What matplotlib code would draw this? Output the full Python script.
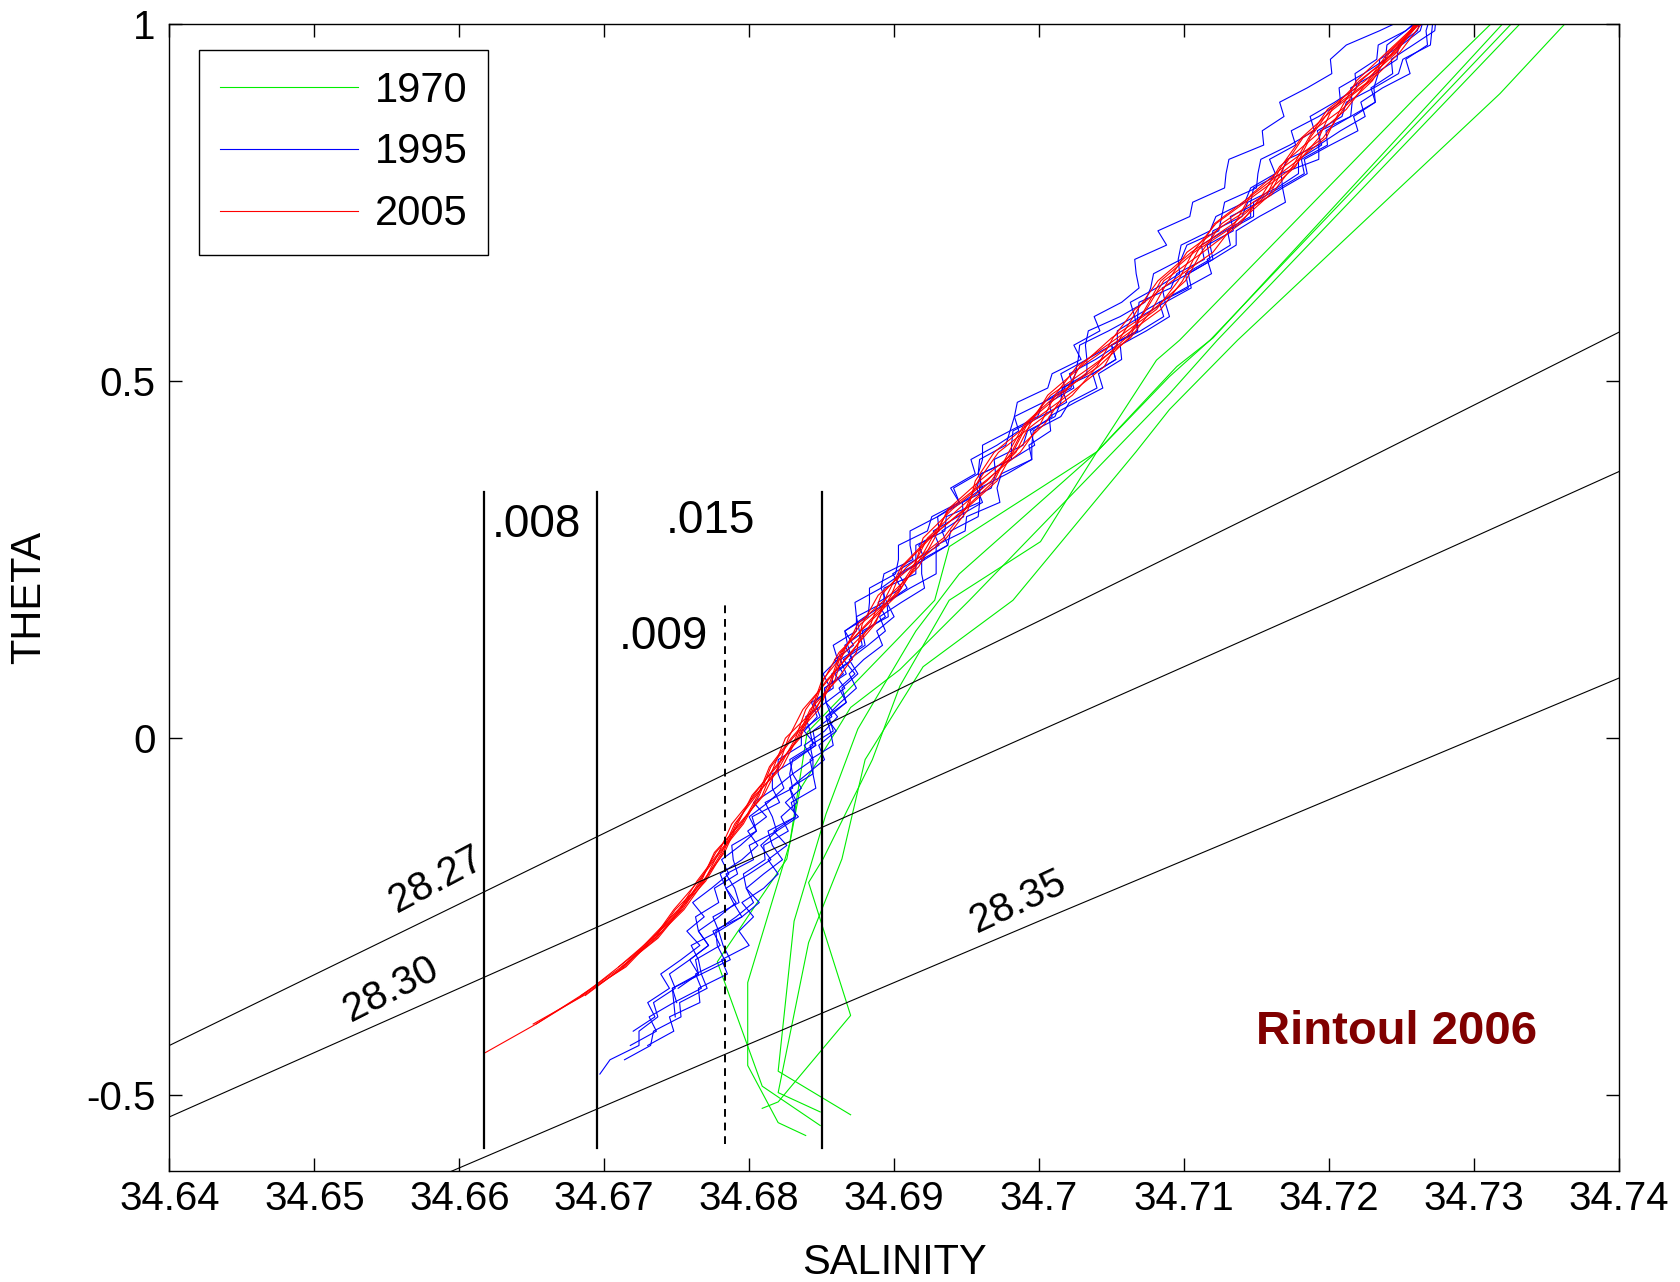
import numpy as np
import matplotlib
matplotlib.use('Agg')
import matplotlib.pyplot as plt

plt.rcParams['font.family'] = ['Liberation Sans', 'DejaVu Sans']

# salinity stored as units of 1e-4 above 34.6 (so 618 -> 34.6618)
red_theta = [-0.44, -0.40, -0.36, -0.32, -0.28, -0.24, -0.20, -0.16, -0.12, -0.08,
             -0.04, 0.00, 0.04, 0.08, 0.12, 0.16, 0.20, 0.24, 0.28, 0.32,
             0.36, 0.40, 0.44, 0.48, 0.52, 0.56, 0.60, 0.64, 0.68, 0.72,
             0.76, 0.80, 0.84, 0.88, 0.92, 0.96, 1.00]
red_mid = [618, 652, 685, 712, 734, 751, 766, 779, 792, 805,
           817, 829, 842, 854, 866, 880, 895, 911, 927, 944,
           961, 978, 996, 1015, 1034, 1053, 1073, 1092, 1111, 1131,
           1151, 1170, 1189, 1207, 1225, 1243, 1261]
red_dev = [
    [0, 1, -1, 0, 2, 1, -2, 0, 3, 1, -3, 0, 4, 2, -3, 1, 5, 2, -4, 0, 6, 3, -5, -1, 4, 7, 1, -6, 2, 8, 3, -4, 0, 5, 2, -2, 1],
    [None, -1, 1, 2, -1, 3, 1, -3, 2, 4, 0, -4, 3, 5, -1, -5, 2, 6, 1, -7, -2, 5, 8, 2, -6, -3, 6, 9, 1, -5, 4, 7, -2, -6, 3, 1, -1],
    [None, 1, 0, -2, 1, -2, 3, 2, -2, 0, 4, 3, -3, -1, 5, 4, -4, -2, 7, 5, -3, -6, 1, 8, 6, -2, -7, 0, 9, 4, -5, -1, 7, 3, -3, 2, 0],
    [None, None, 2, 1, -2, 0, 2, 4, 0, -3, 2, 5, 1, -4, 0, 6, 3, -5, -2, 4, 8, 1, -6, -3, 7, 9, 0, -8, -4, 6, 8, -1, -7, 2, 5, -1, 2],
    [None, None, -1, 3, 0, -3, -1, 1, 4, 2, -2, 1, 6, 3, -2, -3, 6, 4, -1, -6, 2, 9, 5, -4, -8, 1, 8, 4, -5, -9, -2, 6, 4, -5, -4, 3, 1],
    [None, None, None, 0, 3, 2, 0, -2, 1, 5, 3, -2, -5, 0, 4, 7, 0, -6, -3, 5, 10, 4, -4, -7, 2, 10, 5, -3, -9, -2, 9, 5, -3, -8, 0, 4, -2],
    [None, None, None, -2, -1, 1, 4, 3, -1, -2, 1, 6, 2, -3, -4, 2, 7, 3, -7, -4, 3, 6, -2, -9, -5, 4, 11, 7, -2, -10, -4, 3, 9, 1, -6, -3, 0],
    [None, None, None, None, 1, 4, 3, 0, -4, -1, 6, 4, 0, 6, 8, -2, -6, 1, 9, 7, -5, -9, -3, 5, 11, 3, -5, -10, -6, 3, 6, -3, -8, -4, 4, 6, 3],
]

blue_theta = [-0.47, -0.45, -0.43, -0.41, -0.39, -0.37, -0.35, -0.33, -0.31, -0.29,
              -0.27, -0.25, -0.23, -0.21, -0.19, -0.17, -0.15, -0.13, -0.11, -0.09,
              -0.07, -0.05, -0.03, -0.01, 0.01, 0.03, 0.05, 0.07, 0.09, 0.11,
              0.13, 0.15, 0.17, 0.19, 0.21, 0.23, 0.25, 0.27, 0.29, 0.31,
              0.33, 0.35, 0.37, 0.39, 0.41, 0.43, 0.45, 0.47, 0.49, 0.51,
              0.53, 0.55, 0.57, 0.59, 0.61, 0.63, 0.65, 0.67, 0.69, 0.71,
              0.73, 0.75, 0.77, 0.79, 0.81, 0.83, 0.85, 0.87, 0.89, 0.91,
              0.93, 0.95, 0.97, 0.99, 1.01]
blue_mid = [697, 710, 722, 732, 739, 746, 753, 759, 765, 770,
            775, 779, 783, 788, 792, 797, 802, 807, 812, 817,
            822, 828, 834, 840, 846, 849, 853, 858, 863, 867,
            872, 878, 884, 891, 899, 907, 915, 923, 931, 940,
            949, 957, 966, 975, 983, 992, 1001, 1011, 1020, 1029,
            1039, 1048, 1058, 1068, 1077, 1087, 1097, 1106, 1116, 1126,
            1136, 1146, 1156, 1165, 1175, 1185, 1194, 1203, 1212, 1221,
            1230, 1239, 1248, 1257, 1266]
blue_dev = [
    [0, -6, 2, -8, -2, -12, -4, -14, -6, 2, -10, -16, -4, -12, 0,
     -8, -14, -2, -10, 4, -6, -12, -2, 6, -8, -2, -10, 0, -6, 4,
     -4, -12, -2, -8, -16, -6, -12, -20, -8, -14, -4, -18, -10, -22, -12,
     -6, -18, -26, -14, -20, -10, -24, -16, -30, -20, -18, -30, -40, -28, -44,
     -32, -40, -28, -36, -44, -30, -40, -34, -46, -36, -28, -38, -36, -22, -10],
    [None, 4, 10, 2, 14, 6, 18, 8, 22, 12, 4, 16, 24, 10, 18,
     26, 14, 6, 20, 12, 24, 16, 8, 18, 10, 4, 14, 6, 12, 2,
     10, 16, 6, 14, 22, 12, 4, 14, 8, 18, 10, 2, 12, 20, 10,
     16, 6, 14, 24, 12, 18, 8, 16, 22, 10, 18, 6, 14, 20, 10,
     16, 24, 12, 20, 8, 16, 26, 14, 20, 10, 18, 12, 22, 14, 6],
    [None, None, -4, 4, -8, 2, -6, 8, 0, -10, 4, -4, 10, 2, -8,
     6, -2, 12, 4, -6, 8, 0, -4, 6, -2, 8, 0, -6, 4, -4,
     6, -2, -10, 2, -6, 8, 0, -8, 4, -4, 10, 2, -6, 6, -2,
     -10, 0, 8, -4, 4, -6, 2, 10, 0, -8, 4, -2, 8, -4, 2,
     10, 0, -8, 2, -4, 8, 0, 12, 4, -6, 2, 8, 0, 4, -2],
    [None, None, 8, 16, 6, 20, 12, 26, 16, 30, 18, 24, 12, 22, 28,
     16, 24, 10, 20, 14, 6, 16, 10, 2, 12, 6, 14, 4, 10, -2,
     8, 0, 12, 4, 10, -4, 6, 14, 2, 8, -2, 10, 4, -6, 6,
     0, 10, 4, -4, 8, 14, 2, 10, -2, 6, 16, 4, 12, 0, 8,
     -4, 6, 12, 2, 18, 8, 14, 22, 10, 16, 26, 14, 20, 10, 4],
    [None, None, None, -12, -4, -16, -8, -20, -12, -4, -18, -10, -22, -14, -6,
     -16, -8, -2, -12, -4, 2, -8, -14, -4, -10, 0, -8, -2, -12, -6,
     -14, -4, -10, -18, -8, -14, -2, -12, -20, -10, -4, -16, -8, -14, -22,
     -12, -18, -8, -2, -14, -6, -16, -24, -12, -4, -10, -18, -8, -14, -2,
     -10, -18, -6, -14, -22, -12, -4, -16, -8, -2, -12, -6, -14, -4, -2],
    [None, None, None, None, 10, 2, 14, 4, 18, 8, 2, 12, 20, 10, 4,
     14, 8, 20, 10, 16, 6, 12, 18, 8, 14, 4, 10, 16, 6, 12,
     20, 10, 16, 4, 12, 22, 14, 6, 18, 10, 24, 14, 8, 20, 12,
     4, 14, 10, 20, 8, 14, 2, 12, 18, 6, 14, 22, 10, 16, 4,
     12, 2, 10, 18, 6, 14, 4, 12, 20, 8, 14, 4, 10, 16, 8],
    [None, None, None, None, None, 4, -6, 6, -2, 10, 0, 16, 6, -4, 8,
     18, 6, 12, 22, 8, 14, 2, 10, -2, 6, 12, 0, 8, -4, 4,
     -6, 2, 10, -2, 6, -8, 0, 8, -4, 4, 12, 0, -6, 6, 14,
     2, 8, -4, 4, -8, 0, 6, -4, 2, 10, -2, 6, 14, 2, -6,
     4, -2, 8, 14, 4, 10, -2, 6, 0, 10, 4, -4, 2, 6, 0],
    [None, None, None, None, None, None, -2, 6, -6, 2, -10, 0, 8, -4, -12,
     -2, 4, -8, 0, -14, -4, 2, -6, 4, -4, -10, 0, -6, 2, -8,
     0, -12, -4, 4, -8, -2, 6, -6, 0, -10, -2, 4, -8, -16, -6,
     -12, -2, -8, 2, -4, -12, -20, -10, -2, -14, -6, 0, -10, -18, -8,
     -14, -4, -10, -2, -16, -8, -20, -10, -4, -14, -6, 0, -8, -4, 0],
]

# 1970 bottle profiles (salinity, theta)
green_sal = [
    [34.6839, 34.6820, 34.6799, 34.6799, 34.6828, 34.6840, 34.6904, 34.6928, 34.6938, 34.7040, 34.7090, 34.7118, 34.7326],
    [34.6809, 34.6820, 34.6870, 34.6841, 34.6851, 34.6885, 34.6904, 34.6938, 34.7001, 34.7040, 34.7081, 34.7097, 34.7260, 34.7312],
    [34.6849, 34.6809, 34.6778, 34.6826, 34.6835, 34.6870, 34.6904, 34.6952, 34.7090, 34.7123, 34.7332],
    [34.6849, 34.6820, 34.6841, 34.6864, 34.6880, 34.6920, 34.6982, 34.7067, 34.7090, 34.7137, 34.7318, 34.7363],
    [34.6870, 34.6820, 34.6831, 34.6853, 34.6875, 34.6915, 34.6945, 34.7040, 34.7095, 34.7120, 34.7320],
]
green_theta = [
    [-0.556, -0.538, -0.458, -0.342, -0.147, 0.008, 0.142, 0.193, 0.268, 0.401, 0.506, 0.557, 1.0],
    [-0.518, -0.509, -0.388, -0.202, -0.169, -0.030, 0.073, 0.193, 0.275, 0.401, 0.529, 0.557, 0.897, 1.0],
    [-0.542, -0.487, -0.313, -0.169, -0.072, 0.043, 0.096, 0.193, 0.482, 0.557, 1.0],
    [-0.523, -0.496, -0.286, -0.169, -0.030, 0.100, 0.193, 0.401, 0.460, 0.557, 0.902, 1.0],
    [-0.527, -0.466, -0.256, -0.106, 0.013, 0.150, 0.230, 0.401, 0.520, 0.560, 1.0],
]

# neutral density contours
iso_names = ['28.27', '28.30', '28.35']
iso_sal = [[34.64, 34.66, 34.68, 34.70, 34.72, 34.74],
           [34.64, 34.66, 34.68, 34.70, 34.72, 34.74],
           [34.659, 34.68, 34.70, 34.72, 34.74]]
iso_theta = [[-0.430, -0.232, -0.034, 0.164, 0.364, 0.568],
             [-0.530, -0.350, -0.170, 0.010, 0.190, 0.373],
             [-0.610, -0.428, -0.256, -0.086, 0.084]]
iso_lab_pos = [(34.65842, -0.198), (34.65531, -0.351), (34.69858, -0.229)]
iso_lab_rot = [28, 27, 25]

# salinity difference markers
vline_s = [34.6617, 34.6695, 34.6850]
vline_t = (-0.574, 0.345)
dash_s = 34.6783
dash_t = (-0.568, 0.189)

xticks = [34.64, 34.65, 34.66, 34.67, 34.68, 34.69, 34.70, 34.71, 34.72, 34.73, 34.74]
xticklabels = ['34.64', '34.65', '34.66', '34.67', '34.68', '34.69', '34.7', '34.71', '34.72', '34.73', '34.74']
yticks = [-0.5, 0, 0.5, 1]
yticklabels = ['-0.5', '0', '0.5', '1']

fig = plt.figure(figsize=(16.81, 12.82), dpi=100)
ax = fig.add_axes([0.10077, 0.08696, 0.86224, 0.89465])

lw = 0.8
for i in range(len(green_sal)):
    ax.plot(green_sal[i], green_theta[i], color='#00ee00', lw=lw,
            label='1970' if i == 0 else None)

bt = np.array(blue_theta)
for i, dev in enumerate(blue_dev):
    s = 34.6 + (np.array(blue_mid) + np.array(dev, dtype=float)) / 1e4
    ax.plot(s, bt, color='#0000ff', lw=lw, label='1995' if i == 0 else None)

rt = np.array(red_theta)
for i, dev in enumerate(red_dev):
    s = 34.6 + (np.array(red_mid) + np.array(dev, dtype=float)) / 1e4
    ax.plot(s, rt, color='#ff0000', lw=lw, label='2005' if i == 0 else None)

for i in range(3):
    ax.plot(iso_sal[i], iso_theta[i], color='k', lw=0.8)
    ax.text(iso_lab_pos[i][0], iso_lab_pos[i][1], iso_names[i], fontsize=29,
            rotation=iso_lab_rot[i], rotation_mode='anchor', ha='center', va='center')

for s in vline_s:
    ax.plot([s, s], vline_t, color='k', lw=1.6)
ax.plot([dash_s, dash_s], dash_t, color='k', lw=1.4, dashes=(4, 3))

ax.text(34.66221, 0.2817, '.008', fontsize=33, ha='left', va='baseline')
ax.text(34.67735, 0.2876, '.015', fontsize=33, ha='center', va='baseline')
ax.text(34.67717, 0.1243, '.009', fontsize=33, ha='right', va='baseline')

ax.text(34.72469, -0.428, 'Rintoul 2006', fontsize=34, fontweight='bold',
        color='#800000', ha='center', va='baseline')

ax.set_xlim(34.64, 34.74)
ax.set_ylim(-0.605, 1.0)
ax.set_xticks(xticks)
ax.set_xticklabels(xticklabels)
ax.set_yticks(yticks)
ax.set_yticklabels(yticklabels)
ax.tick_params(direction='in', top=True, right=True, length=9.5, width=1,
               labelsize=29)
ax.tick_params(axis='x', pad=7)
ax.tick_params(axis='y', pad=10)
for sp in ax.spines.values():
    sp.set_linewidth(1.0)

ax.set_xlabel('SALINITY', fontsize=30)
ax.set_ylabel('THETA', fontsize=30)
ax.xaxis.set_label_coords(0.5, -0.063)
ax.yaxis.set_label_coords(-0.083, 0.5)

leg = ax.legend(loc='upper left', bbox_to_anchor=(0.0207, 0.977), borderaxespad=0,
                fontsize=30, handlelength=3.3, handletextpad=0.4, labelspacing=0.52,
                borderpad=0.5, fancybox=False, framealpha=1, edgecolor='k')
leg.get_frame().set_linewidth(1.0)

plt.savefig('out.png', dpi=100)
